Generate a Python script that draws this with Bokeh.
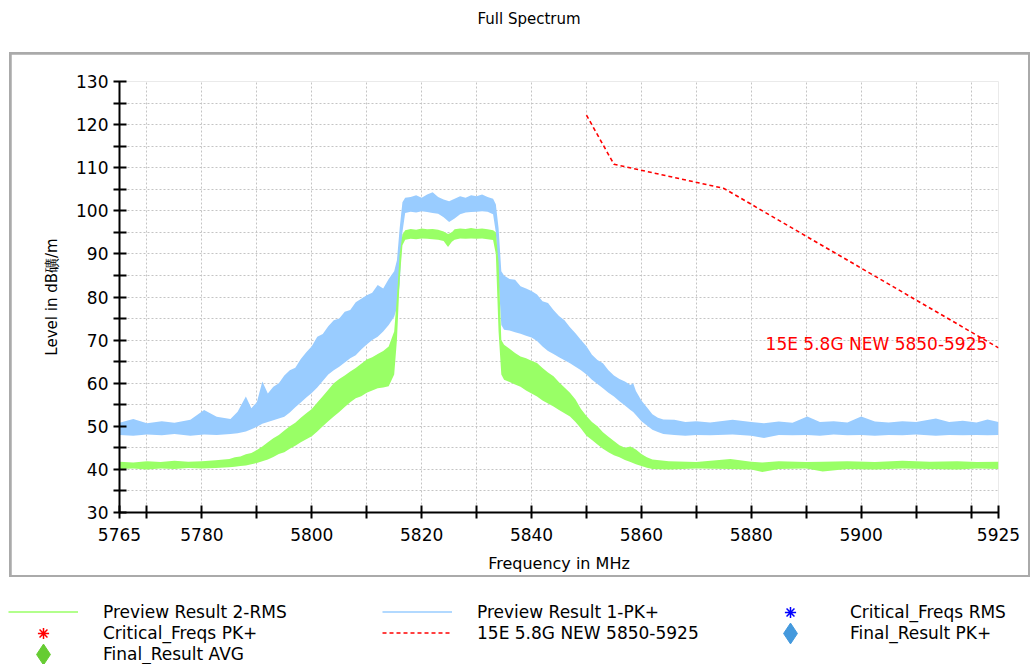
from bokeh.plotting import figure
from bokeh.models import Range1d, FixedTicker, Label, Legend, LegendItem
from bokeh.layouts import column
from bokeh.embed import file_html
from bokeh.resources import INLINE

# ---------------- data ----------------
pk_freq = [5765, 5767.5, 5770, 5772.7, 5775, 5777.9, 5780.4, 5782.7, 5785.2, 5786.5,
           5788, 5789, 5790, 5791, 5792, 5793, 5794, 5795, 5796, 5797,
           5798, 5799, 5800, 5801, 5802, 5803, 5804, 5805, 5806, 5807,
           5808, 5809, 5810, 5811, 5812, 5813, 5814, 5815, 5815.5, 5816,
           5816.5, 5817, 5818, 5819, 5820, 5821, 5822, 5823, 5824, 5825,
           5826, 5827, 5828, 5829, 5830, 5831, 5832, 5833, 5833.5, 5834,
           5834.5, 5835, 5836, 5837, 5838, 5839, 5840, 5841, 5842, 5843,
           5844, 5845, 5846, 5847, 5848, 5849, 5850, 5851, 5852, 5853,
           5854, 5855, 5856, 5857, 5858, 5858.5, 5859, 5860, 5861, 5862,
           5863, 5864, 5866, 5868, 5870, 5872.5, 5876.6, 5880, 5882.3, 5885,
           5887.5, 5890.2, 5892.5, 5895, 5897.5, 5900, 5902.5, 5905, 5907.5, 5910,
           5913.6, 5916, 5918.5, 5921, 5923, 5925]
pk_low = [48.0, 47.8, 48.1, 47.9, 48.2, 47.8, 48.1, 48.0, 48.2, 48.4,
          48.8, 49.3, 49.9, 50.6, 51.0, 51.4, 51.8, 52.2, 53.2, 54.4,
          55.5, 56.7, 57.7, 59.0, 60.5, 62.0, 63.0, 63.8, 64.8, 65.8,
          66.5, 67.8, 69.0, 70.0, 70.8, 72.0, 73.5, 75.4, 77.5, 83.0,
          95.0, 99.5, 99.8, 99.6, 99.9, 99.7, 99.5, 99.3, 98.5, 97.4,
          98.2, 99.2, 99.6, 99.7, 99.8, 99.9, 99.8, 99.2, 95.0, 84.0,
          73.5, 72.4, 72.2, 71.8, 71.5, 71.0, 70.6, 69.8, 68.5, 67.5,
          66.8, 66.0, 65.3, 64.6, 63.8, 63.0, 62.0, 60.8, 59.8, 58.8,
          57.8, 56.9, 55.8, 54.8, 53.8, 53.3, 52.6, 51.2, 50.2, 49.2,
          48.7, 48.2, 48.0, 47.8, 48.0, 47.9, 48.1, 47.8, 47.3, 48.0,
          47.9, 48.0, 47.8, 48.1, 47.9, 48.0, 47.8, 48.0, 47.9, 48.1,
          47.8, 48.0, 47.9, 48.0, 47.9, 48.0]
pk_high = [50.8, 51.7, 50.7, 51.2, 50.8, 51.5, 53.8, 52.2, 51.7, 53.4,
           56.9, 54.2, 55.6, 60.4, 57.6, 59.2, 60.0, 61.8, 63.0, 63.6,
           65.6, 67.2, 68.6, 70.8, 71.4, 73.2, 74.6, 75.0, 76.6, 77.0,
           78.8, 79.6, 80.4, 81.0, 82.8, 82.0, 84.2, 86.0, 88.5, 96.0,
           102.0, 103.0, 103.2, 103.6, 103.0, 103.8, 104.3, 103.2, 102.6, 102.2,
           102.8, 103.4, 103.0, 103.6, 103.4, 103.8, 103.2, 102.8, 101.5, 96.0,
           86.0, 85.0, 84.2, 84.0, 82.5, 82.0, 81.4, 80.6, 79.0, 78.6,
           77.0, 75.6, 74.6, 73.0, 71.6, 70.0, 68.6, 66.6, 65.4, 64.6,
           63.0, 61.8, 61.0, 60.4, 59.6, 60.0, 58.2, 56.0, 54.4, 52.8,
           52.0, 51.6, 51.5, 51.0, 51.2, 50.9, 51.5, 51.0, 50.7, 51.1,
           50.8, 52.3, 51.0, 51.2, 50.9, 52.3, 51.1, 50.9, 51.2, 51.0,
           51.8, 51.0, 51.3, 50.9, 51.6, 51.0]

rms_freq = [5765, 5767.5, 5770, 5772.5, 5775, 5777.5, 5780, 5782.5, 5785, 5786,
            5787, 5788, 5789, 5790, 5791, 5792, 5793, 5794, 5795, 5796,
            5797, 5798, 5799, 5800, 5801, 5802, 5803, 5804, 5805, 5806,
            5807, 5808, 5809, 5810, 5811, 5812, 5813, 5814, 5815, 5815.5,
            5816, 5816.5, 5817, 5818, 5819, 5820, 5821, 5822, 5823, 5824,
            5824.8, 5825.5, 5826, 5827, 5828, 5829, 5830, 5831, 5832, 5833,
            5833.5, 5834, 5834.5, 5835, 5836, 5837, 5838, 5839, 5840, 5841,
            5842, 5843, 5844, 5845, 5846, 5847, 5848, 5849, 5850, 5851,
            5852, 5853, 5854, 5855, 5856, 5857, 5858, 5859, 5860, 5861,
            5862, 5865, 5870, 5876.2, 5880, 5882, 5885, 5890, 5893, 5897.5,
            5902.5, 5907.5, 5912.5, 5917.5, 5921, 5925]
rms_low = [40.1, 40.2, 40.0, 40.2, 40.1, 40.3, 40.2, 40.3, 40.5, 40.6,
           40.8, 40.9, 41.2, 41.5, 41.9, 42.3, 42.9, 43.6, 44.0, 44.8,
           45.5, 46.3, 47.0, 47.7, 48.8, 50.0, 51.2, 52.3, 53.3, 54.5,
           55.6, 56.5, 57.0, 57.8, 58.3, 58.8, 59.0, 59.3, 62.0, 70.0,
           84.0, 92.0, 93.3, 93.5, 93.4, 93.6, 93.5, 93.4, 93.3, 93.0,
           91.6, 92.8, 93.3, 93.6, 93.5, 93.6, 93.5, 93.6, 93.4, 93.2,
           90.0, 72.0, 62.0, 60.8, 60.3, 59.7, 59.2, 58.3, 57.6, 56.9,
           56.0, 55.3, 54.6, 53.8, 53.0, 52.3, 51.0, 49.5, 47.8, 46.8,
           45.8, 44.8, 44.0, 43.3, 42.8, 42.2, 41.7, 41.2, 40.8, 40.4,
           40.1, 40.0, 40.2, 40.1, 40.0, 39.4, 40.1, 40.2, 39.5, 40.1,
           40.0, 40.2, 40.1, 40.0, 40.2, 40.1]
rms_high = [41.8, 41.6, 41.9, 41.7, 42.0, 41.8, 41.9, 42.1, 42.4, 42.8,
            43.0, 43.5, 43.8, 44.5, 45.3, 46.3, 47.2, 48.0, 49.0, 50.0,
            50.8, 52.0, 53.0, 54.0, 55.5, 57.0, 58.5, 60.0, 61.0, 61.8,
            62.7, 63.5, 64.5, 65.5, 66.0, 66.8, 67.5, 68.5, 72.0, 80.0,
            90.0, 94.5, 95.5, 95.8, 95.6, 95.9, 95.7, 95.8, 95.6, 95.2,
            94.6, 95.0, 95.7, 95.9, 95.8, 96.0, 95.8, 95.9, 95.7, 95.5,
            95.0, 88.0, 70.0, 68.9, 68.0, 67.0, 66.2, 65.8, 65.2, 64.7,
            63.5, 62.5, 61.6, 60.2, 59.0, 57.8, 56.2, 54.0, 52.4, 51.0,
            50.0, 48.6, 47.6, 46.6, 45.6, 45.0, 45.3, 44.6, 43.6, 42.8,
            42.3, 41.9, 41.7, 42.4, 41.8, 41.6, 41.9, 41.7, 41.8, 41.9,
            41.7, 42.0, 41.8, 41.9, 41.7, 41.8]

limit_freq = [5850, 5855, 5875, 5925]
limit_level = [122.2, 110.8, 105.2, 68.2]
limit_name = "15E 5.8G NEW 5850-5925"
limit_label_freq = 5882.6
limit_label_level = 69.1

x_major_ticks = [5765, 5780, 5800, 5820, 5840, 5860, 5880, 5900, 5925]
x_minor_ticks = [5770, 5790, 5810, 5830, 5850, 5870, 5890, 5910, 5920]
x_grid_ticks = [5770, 5780, 5790, 5800, 5810, 5820, 5830, 5840, 5850, 5860,
                5870, 5880, 5890, 5900, 5910, 5920, 5925]
y_major_ticks = [30, 40, 50, 60, 70, 80, 90, 100, 110, 120, 130]
y_minor_ticks = [35, 45, 55, 65, 75, 85, 95, 105, 115, 125]
y_grid_ticks = [35, 40, 45, 50, 55, 60, 65, 70, 75, 80, 85, 90, 95, 100, 105,
                110, 115, 120, 125, 130]

assert len(pk_freq) == len(pk_low) == len(pk_high)
assert len(rms_freq) == len(rms_low) == len(rms_high)

# ---------------- styles ----------------
RMS_COLOR = "#99ff66"
PK_COLOR = "#99ccff"
LIMIT_COLOR = "#ff0000"
FONT = "DejaVu Sans"

# ---------------- title ----------------
tf = figure(width=1036, height=50, toolbar_location=None, output_backend="svg",
            x_range=Range1d(0, 1), y_range=Range1d(0, 1),
            x_axis_location=None, y_axis_location=None, outline_line_color=None,
            min_border=0, margin=(2, 0, 0, 0))
tf.title.text = "Full Spectrum"
tf.title.align = "left"
tf.title.offset = 477
tf.title.text_font = FONT
tf.title.text_font_size = "15px"
tf.title.text_font_style = "normal"
tf.title.text_color = "black"
tf.xgrid.visible = False
tf.ygrid.visible = False

# ---------------- chart ----------------
p = figure(width=1017, height=521, x_range=Range1d(5765, 5925), y_range=Range1d(30, 130),
           toolbar_location=None, output_backend="svg",
           min_border_left=108, min_border_right=30, min_border_top=27, min_border_bottom=62,
           outline_line_color=None, margin=(2, 2, 2, 2),
           border_fill_color="white", background_fill_color="white")

p.varea(x=pk_freq, y1=pk_low, y2=pk_high, fill_color=PK_COLOR)
p.varea(x=rms_freq, y1=rms_low, y2=rms_high, fill_color=RMS_COLOR)
p.line(x=limit_freq, y=limit_level, line_color=LIMIT_COLOR, line_width=1.6, line_dash="4 3")
p.add_layout(Label(x=limit_label_freq, y=limit_label_level, text=limit_name,
                   text_color=LIMIT_COLOR, text_font=FONT, text_font_size="17px",
                   text_baseline="alphabetic"))

for ax in (p.xaxis[0], p.yaxis[0]):
    ax.axis_line_color = "black"
    ax.axis_line_width = 2
    ax.major_tick_line_color = "black"
    ax.minor_tick_line_color = "black"
    ax.major_tick_line_width = 2
    ax.minor_tick_line_width = 2
    ax.major_tick_in = 7
    ax.major_tick_out = 6
    ax.minor_tick_in = 7
    ax.minor_tick_out = 6
    ax.major_label_text_font = FONT
    ax.major_label_text_font_size = "17px"
    ax.major_label_text_color = "black"
    ax.axis_label_text_font = FONT
    ax.axis_label_text_font_size = "16px"
    ax.axis_label_text_font_style = "normal"
    ax.axis_label_text_color = "black"

p.xaxis.ticker = FixedTicker(ticks=x_major_ticks, minor_ticks=x_minor_ticks)
p.yaxis.ticker = FixedTicker(ticks=y_major_ticks, minor_ticks=y_minor_ticks)
p.xaxis.axis_label = "Frequency in MHz"
p.yaxis.axis_label = "Level in dB礦/m"
p.yaxis.axis_label_text_font_size = "15px"
p.xaxis.major_label_standoff = 9
p.yaxis.major_label_standoff = 5
p.xaxis.axis_label_standoff = 10
p.yaxis.axis_label_standoff = 12

p.xgrid.ticker = FixedTicker(ticks=x_grid_ticks)
p.ygrid.ticker = FixedTicker(ticks=y_grid_ticks)
for g in (p.xgrid[0], p.ygrid[0]):
    g.grid_line_color = "#c4c4c4"
    g.grid_line_width = 1
    g.grid_line_dash = "2 2"

box = column(p, margin=(0, 0, 0, 9), styles={"background-color": "#aaaaaa"})

# ---------------- legend ----------------
LEG_H = 87
lf = figure(width=1036, height=LEG_H, toolbar_location=None, output_backend="svg",
            x_range=Range1d(0, 1), y_range=Range1d(0, 1),
            x_axis_location=None, y_axis_location=None, outline_line_color=None,
            min_border=0)
lf.xgrid.visible = False
lf.ygrid.visible = False

# placeholder renderers (their points lie outside the legend panel's range); they only feed the legend
off = dict(x=[-5, -4], y=[-5, -4])
r_rms = lf.line(x="x", y="y", source=off, line_color=RMS_COLOR, line_width=1.5)
r_pk = lf.line(x="x", y="y", source=off, line_color=PK_COLOR, line_width=1.5)
r_crit_rms = lf.scatter(x="x", y="y", source=off, marker="asterisk", line_color="#0000ff", line_width=1.5)
r_crit_pk = lf.scatter(x="x", y="y", source=off, marker="asterisk", line_color="#ff0000", line_width=1.5)
r_limit = lf.line(x="x", y="y", source=off, line_color=LIMIT_COLOR, line_width=1.5, line_dash="4 3")
r_final_pk = lf.scatter(x="x", y="y", source=off, marker="diamond", fill_color="#4499dd", line_color="#4499dd")
r_final_avg = lf.scatter(x="x", y="y", source=off, marker="diamond", fill_color="#66cc33", line_color="#66cc33")

COL_X = [8, 382, 755]
ROW_C = [34.5, 55.5, 76.5]          # row centres, px from top of legend panel
# (label, renderer, column, row, glyph box height)
legend_entries = [
    ("Preview Result 2-RMS", r_rms, 0, 0, 21),
    ("Preview Result 1-PK+", r_pk, 1, 0, 21),
    ("Critical_Freqs RMS", r_crit_rms, 2, 0, 28),
    ("Critical_Freqs PK+", r_crit_pk, 0, 1, 28),
    (limit_name, r_limit, 1, 1, 21),
    ("Final_Result PK+", r_final_pk, 2, 1, 52),
    ("Final_Result AVG", r_final_avg, 0, 2, 52),
]
for text, rend, c, r, gh in legend_entries:
    top = ROW_C[r] - gh / 2
    leg = Legend(items=[LegendItem(label=text, renderers=[rend])],
                 location=(COL_X[c], LEG_H - top - gh), orientation="vertical",
                 glyph_width=70, glyph_height=gh, label_height=gh, label_standoff=25,
                 spacing=0, padding=0, margin=0,
                 border_line_color=None, background_fill_alpha=0,
                 label_text_font=FONT, label_text_font_size="17px", label_text_color="black")
    lf.add_layout(leg)

root = column(tf, box, lf)
open("out.html", "w").write(file_html(root, INLINE))
